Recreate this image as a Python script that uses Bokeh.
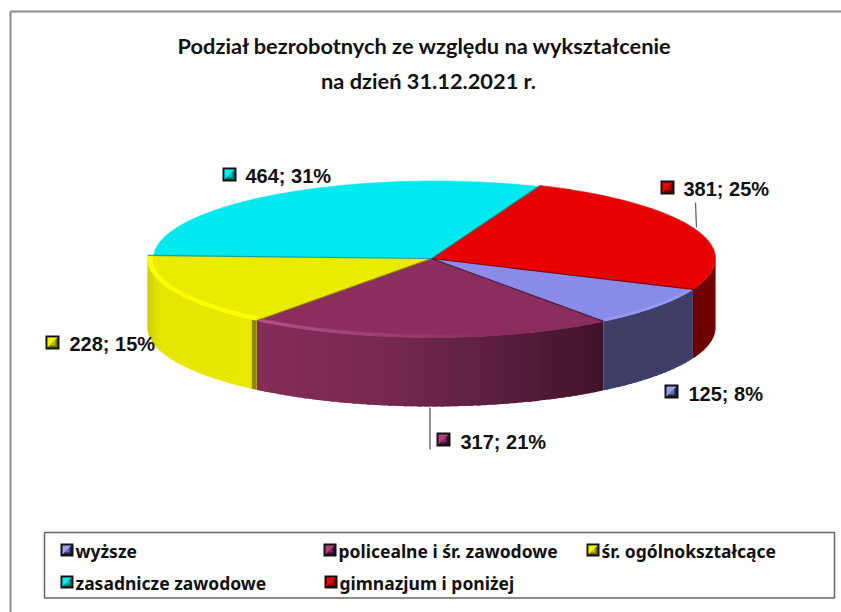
import numpy as np
from bokeh.plotting import figure
from bokeh.models import Range1d
from bokeh.core.properties import value
from bokeh.embed import file_html
from bokeh.resources import INLINE

# ---- data ----
categories = ["wyższe", "policealne i śr. zawodowe", "śr. ogólnokształcące", "zasadnicze zawodowe", "gimnazjum i poniżej"]
counts = [125, 317, 228, 464, 381]
percents = [8, 21, 15, 31, 25]
title_lines = ["Podział bezrobotnych ze względu na wykształcenie", "na dzień 31.12.2021 r."]

# ---- styles ----
top_colors = ["#8A8AE8", "#8B2D5D", "#EBEB00", "#00E9EE", "#E80000"]
rim_colors = ["#9898F0", "#B4528C", "#FFFF00", "#00E9EE", "#E80000"]
side_stops = [
    [("#3E3E68", 0), ("#3E3E68", 1)],
    [("#862C58", 0), ("#74284F", .4), ("#5A1E3E", .7), ("#3F1229", 1)],
    [("#CFCF00", 0), ("#E6E600", .12), ("#E8E800", 1)],
    [("#00A0A0", 0), ("#00A0A0", 1)],
    [("#6E0000", 0), ("#6E0000", 1)],
]
seam_colors = ["#3A1030", "#6E6E00", "#0A8A8A", "#00A0A0", "#5A0000"]
swatch_dark = ["#24243F", "#3A1026", "#6E6E00", "#006E6E", "#6E0000"]
swatch_lite = ["#9C9CF0", "#B04080", "#F5F500", "#00EEEE", "#F50000"]

# ---- layout (page pixels) ----
CX, CY, RX, RY, DEPTH, START = 431.0, 258.0, 284.0, 79.0, 69.0, 23.0
label_xy = [(688, 393), (460, 441), (69, 343), (245, 175), (683, 188)]
marker_box = [(664, 384, 14), (436, 432, 14), (45, 335, 14), (222, 167, 14), (660, 180, 14)]
legend_xy = [(60, 550), (323, 550), (586, 550), (60, 582), (324, 582)]
rim_width = [3.0, 3.0, 5.0]

W, H = 841, 612
p = figure(width=W, height=H, output_backend="svg", toolbar_location=None,
           x_range=Range1d(0, W), y_range=Range1d(H, 0),
           x_axis_location=None, y_axis_location=None, min_border=0, tools="")
p.grid.visible = False
p.outline_line_color = None
p.background_fill_color = "white"
p.border_fill_color = "white"

# ---- frame ----
p.segment([10, 10], [11, 11], [10, 841], [612, 11], line_color="#8c8c8c", line_width=2)

def hex2rgb(c):
    return np.array([int(c[i:i + 2], 16) for i in (1, 3, 5)], float)

def ramp(stops, t):
    for (c0, t0), (c1, t1) in zip(stops, stops[1:]):
        if t <= t1:
            f = (t - t0) / (t1 - t0) if t1 > t0 else 0
            r = hex2rgb(c0) * (1 - f) + hex2rgb(c1) * f
            return "#%02x%02x%02x" % tuple(int(round(v)) for v in r)
    return stops[-1][0]

def pt(a, rx=RX, ry=RY, cx=CX, cy=CY):
    a = np.radians(a)
    return cx + rx * np.cos(a), cy + ry * np.sin(a)

# slice angles come from the values
total = sum(counts)
edges = [START]
for c in counts:
    edges.append(edges[-1] + c / total * 360.0)

# ---- side wall: strips from values' angles ----
sx, sy, sc = [], [], []
for i in range(5):
    a0, a1 = edges[i], edges[i + 1]
    for lo, hi in ((a0, a1), (a0 - 360, a1 - 360)):
        lo2, hi2 = max(lo, 0), min(hi, 180)
        if hi2 <= lo2:
            continue
        n = max(2, int((hi2 - lo2) / 1.5))
        grid = np.linspace(lo2, hi2, n + 1)
        for g0, g1 in zip(grid[:-1], grid[1:]):
            over = min(g1 + 1.0, hi2)  # overlap the next strip so no seam shows
            fine = np.linspace(g0, over, 6)
            ex, ey = pt(fine)
            sx.append(np.r_[ex, ex[::-1]].tolist())
            sy.append(np.r_[ey, ey[::-1] + DEPTH].tolist())
            xl, xh = pt(min(a1, 180))[0], pt(max(lo, 0))[0]
            t = (pt((g0 + g1) / 2)[0] - xl) / (xh - xl)
            sc.append(ramp(side_stops[i], float(np.clip(t, 0, 1))))
p.patches(sx, sy, fill_color=sc, line_color=None)

# ---- top faces ----
for i in range(5):
    a = np.linspace(edges[i], edges[i + 1], 120)
    if i == 3:
        ex, ey = pt(a, rx=RX - 3, ry=RY - 1.5, cx=CX + 3)
    else:
        ex, ey = pt(a)
    p.patch(np.r_[CX, ex], np.r_[CY, ey], fill_color=top_colors[i], line_color=top_colors[i], line_width=0.5)

# ---- rim highlight on the front slices ----
for i in range(3):
    a = np.linspace(edges[i] + 0.5, min(edges[i + 1], 183) - 0.5, 50)
    ox, oy = pt(a)
    ix, iy = pt(a, rx=RX - rim_width[i], ry=RY - rim_width[i])
    if i == 1:  # fades away to the right
        n = 50
        rx_, ry_, rc = [], [], []
        for k in range(n - 1):
            rx_.append([ox[k], ox[k + 1], ix[k + 1], ix[k]])
            ry_.append([oy[k], oy[k + 1], iy[k + 1], iy[k]])
            t = k / (n - 2)
            rc.append(ramp([(top_colors[1], 0), (top_colors[1], .35), (rim_colors[1], 1)], t))
        p.patches(rx_, ry_, fill_color=rc, line_color=rc, line_width=0.4)
    else:
        p.patch(np.r_[ox, ix[::-1]], np.r_[oy, iy[::-1]], fill_color=rim_colors[i], line_color=None)

# ---- seams between slices ----
for i, e in enumerate(edges[:5]):
    x, y = pt(e)
    p.line([CX, x], [CY, y], line_color=seam_colors[i - 1], line_width=1.2, line_alpha=.75)

# ---- cut face between yellow and purple ----
x2, y2 = pt(edges[2])
ang = np.linspace(edges[2], edges[2] + 1.2, 4)
fx, fy = pt(ang)
p.patch([x2, fx[-1], fx[-1], x2], [y2, fy[-1], fy[-1] + DEPTH, y2 + DEPTH], fill_color="#8A8A00", line_color=None)

# ---- leader lines ----
p.line([695, 696], [202, 227], line_color="#666666", line_width=1.3)
p.line([429.5, 429.5], [407, 449], line_color="#555555", line_width=1.3)

# ---- swatches ----
def swatch(x, y, s, i):
    p.quad(left=[x], right=[x + s], top=[y], bottom=[y + s], fill_color="#111111", line_color=None)
    p.quad(left=[x + 2], right=[x + s - 2], top=[y + 2], bottom=[y + s - 2], fill_color=swatch_dark[i], line_color=None)
    p.patch([x + 2, x + s - 2, x + 2], [y + 2, y + 2, y + s - 2], fill_color=swatch_lite[i], line_color=None)
    p.patch([x + 4, x + s - 4, x + s - 4], [y + s - 4, y + 4, y + s - 4], fill_color=swatch_lite[i], fill_alpha=.6, line_color=None)

for i in range(5):
    swatch(*marker_box[i], i)
p.text([b[0] for b in label_xy], [b[1] for b in label_xy],
       text=[f"{c}; {q}%" for c, q in zip(counts, percents)],
       text_font=value("Liberation Sans"), text_font_style="bold", text_font_size="20px",
       text_color="#111111", text_baseline="middle", text_align="left")

# ---- title ----
p.text([424.5, 428], [45, 80], text=title_lines, text_font=value("Lato"), text_font_style="bold",
       text_font_size="21.8px", text_color="#111111", text_align="center", text_baseline="middle")

# ---- legend ----
p.quad(left=[44], right=[834], top=[532], bottom=[597.5], fill_color="white", line_color="#666666", line_width=1.5)
for i in range(5):
    x, y = legend_xy[i]
    swatch(x, y - 7, 13, i)
p.text([b[0] + 15 for b in legend_xy], [b[1] for b in legend_xy], text=categories,
       text_font=value("Noto Sans"), text_font_style="bold", text_font_size="17.5px",
       text_color="#111111", text_align="left", text_baseline="middle")

open("out.html", "w").write(file_html(p, INLINE))
